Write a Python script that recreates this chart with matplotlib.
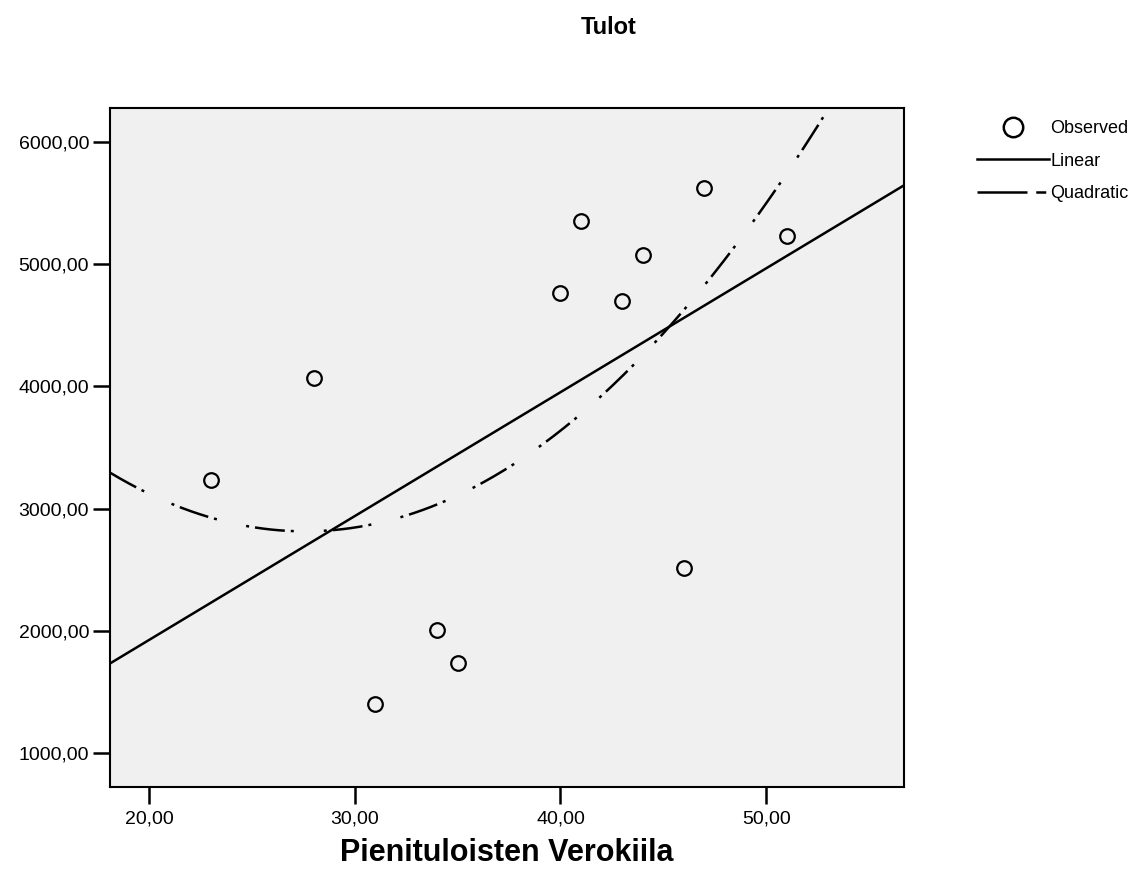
import numpy as np
import matplotlib
matplotlib.use("Agg")
import matplotlib.pyplot as plt
from matplotlib.lines import Line2D
from matplotlib.ticker import FuncFormatter

plt.rcParams['font.family'] = ['Liberation Sans', 'DejaVu Sans']

# --- data: tax rate vs income ---
verokiila = [23, 28, 31, 34, 35, 40, 41, 43, 44, 46, 47, 51]
tulot = [3234, 4069, 1401, 2007, 1736, 4764, 5353, 4699, 5075, 2514, 5624, 5231]

x_ticks = [20, 30, 40, 50]
y_ticks = [1000, 2000, 3000, 4000, 5000, 6000]

X_LIM = (18.1, 56.7)
Y_LIM = (722, 6278)
BG = '#f0f0f0'
LW = 1.8
QUAD_STYLE = (0, (12, 2.4, 1.2, 12, 1.2, 2.4))

x = np.array(verokiila, dtype=float)
y = np.array(tulot, dtype=float)

# curve fits
lin = np.polyfit(x, y, 1)
quad = np.polyfit(x, y, 2)
xs = np.linspace(X_LIM[0], X_LIM[1], 400)

fig = plt.figure(figsize=(11.3, 8.8), dpi=100)
ax = fig.add_axes([110 / 1130, 1 - 787 / 880, 794 / 1130, 679 / 880])
ax.set_facecolor(BG)

ax.plot(x, y, 'o', ms=10.5, mfc='none', mec='black', mew=1.6, zorder=3)
ax.plot(xs, np.polyval(lin, xs), color='black', lw=LW, solid_capstyle='butt')
ax.plot(xs, np.polyval(quad, xs), color='black', lw=LW, linestyle=QUAD_STYLE)

ax.set_xlim(*X_LIM)
ax.set_ylim(*Y_LIM)
ax.set_xticks(x_ticks)
ax.set_yticks(y_ticks)
fmt = FuncFormatter(lambda v, p: f"{v:.2f}".replace('.', ','))
ax.xaxis.set_major_formatter(fmt)
ax.yaxis.set_major_formatter(fmt)
ax.tick_params(direction='out', length=12, width=1.8, labelsize=14, pad=3)
ax.tick_params(axis='x', pad=5)

for s in ax.spines.values():
    s.set_linewidth(1.5)
    s.set_color('black')

fig.text(609 / 1130, 1 - 27 / 880, 'Tulot', ha='center', va='center',
         fontsize=17, fontweight='bold')
fig.text(507 / 1130, 1 - 853 / 880, 'Pienituloisten Verokiila', ha='center',
         va='center', fontsize=22, fontweight='bold')

handles = [
    Line2D([], [], ls='none', marker='o', ms=14, mfc='none', mec='black', mew=1.8),
    Line2D([], [], color='black', lw=LW),
    Line2D([], [], color='black', lw=LW, linestyle=(0, (20, 3.5, 4, 10))),
]
fig.legend(handles, ['Observed', 'Linear', 'Quadratic'], loc='upper left',
           bbox_to_anchor=(961 / 1130, 1 - 104 / 880), frameon=False,
           fontsize=13, handlelength=4.0, handletextpad=0.05, labelspacing=0.85)

fig.savefig('out.png', dpi=100, facecolor='white')
